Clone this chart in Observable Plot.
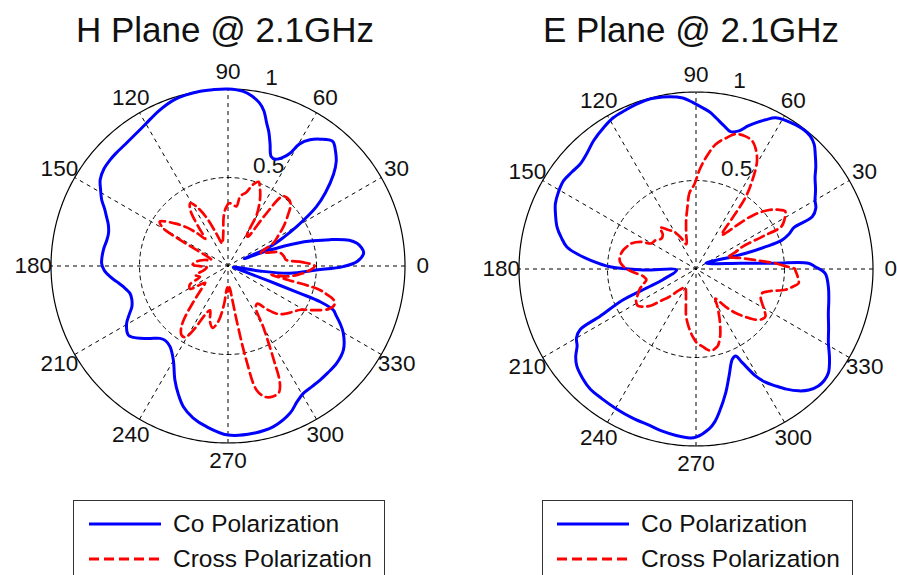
<!DOCTYPE html>
<html>
<head>
<meta charset="utf-8">
<script src="https://cdn.jsdelivr.net/npm/d3@7"></script>
<script src="https://cdn.jsdelivr.net/npm/@observablehq/plot@0.6"></script>
<style>
  body { margin: 0; background: #fff; font-family: "Liberation Sans", Arial, sans-serif; }
  #page { position: relative; width: 897px; height: 575px; overflow: hidden; background: #fff; }
  .title { position: absolute; top: 8px; width: 450px; text-align: center; font-size: 35px; line-height: 44px; color: #111; white-space: nowrap; }
  .chart { position: absolute; top: 55px; }
  .legend { position: absolute; top: 500px; height: 90px; border: 1px solid #333; box-sizing: border-box; background: #fff; }
  .legend .row { position: absolute; left: 0; height: 30px; line-height: 30px; font-size: 24.5px; color: #111; white-space: nowrap; }
  .legend .row svg { position: absolute; top: 5px; }
  .legend .row span { position: absolute; }
</style>
</head>
<body>
<div id="page"></div>
<script>
// ---------- data ----------
const titles = ["H Plane @ 2.1GHz", "E Plane @ 2.1GHz"];
const seriesNames = ["Co Polarization", "Cross Polarization"];
const angleTicks = [0, 30, 60, 90, 120, 150, 180, 210, 240, 270, 300, 330];
const ringTicks = [0.5, 1];

// H plane, co polarization (angle in degrees, normalised magnitude)
const hCoTheta = [348, 351, 353.3, 357.4, 359.7, 2, 5.5, 8, 10, 12, 14.5, 16.5, 18.3, 20.8, 23, 24, 24.7, 27.5, 29.8, 33.8, 37, 41, 44, 47, 50, 54, 57, 59.6, 61.2, 63, 66, 68.5, 71, 73, 74.8, 77, 79, 82, 85, 90, 95, 99, 104, 108, 114, 120, 125, 130, 135, 138, 142, 146, 149, 152.4, 155, 158, 161, 164.7, 168, 172.7, 178.8, 182, 185.2, 188, 191.2, 195.6, 199, 203, 206, 209.5, 214.7, 217, 219.4, 223, 226.8, 230, 234.3, 239.8, 245, 249, 252.4, 257, 262.4, 270, 278.6, 285.8, 292.8, 297, 300.6, 305, 308.9, 313, 318.2, 324, 329.7, 332.9, 335.5, 337.3, 338.8, 339.2, 339.6, 340.5, 342];
const hCoR     = [0.03, 0.18, 0.35, 0.5, 0.65, 0.73, 0.77, 0.76, 0.74, 0.7, 0.595, 0.5, 0.41, 0.254, 0.13, 0.1, 0.26, 0.36, 0.447, 0.6, 0.69, 0.79, 0.85, 0.89, 0.92, 0.886, 0.85, 0.8, 0.727, 0.69, 0.66, 0.665, 0.73, 0.79, 0.835, 0.9, 0.937, 0.97, 0.99, 1.0, 1.0, 1.0, 0.995, 0.987, 0.96, 0.928, 0.91, 0.9, 0.898, 0.896, 0.89, 0.871, 0.84, 0.805, 0.77, 0.74, 0.715, 0.7, 0.7, 0.71, 0.714, 0.7, 0.669, 0.635, 0.603, 0.575, 0.575, 0.59, 0.62, 0.658, 0.685, 0.67, 0.644, 0.6, 0.561, 0.55, 0.561, 0.614, 0.71, 0.78, 0.834, 0.88, 0.916, 0.955, 0.956, 0.943, 0.903, 0.86, 0.836, 0.83, 0.828, 0.826, 0.824, 0.806, 0.755, 0.711, 0.67, 0.645, 0.557, 0.435, 0.3, 0.15, 0.07];

// H plane, cross polarization
const hCrossTheta = [0, 3, 6, 10, 15, 19, 22, 24, 27, 31, 35, 40, 45, 49, 52, 54, 56, 58, 61, 65, 68, 70, 73, 76, 80, 82, 86, 89, 92, 95, 98, 101, 104, 110, 114, 118, 121, 124, 127, 130, 133, 137, 141, 145, 147, 149.5, 151, 153, 156, 160, 166, 172, 178, 184, 190, 196, 201, 206, 211, 216, 221, 226, 230, 233, 236, 239, 242, 245, 248, 252, 256, 260, 264, 268, 271, 274, 277, 279, 281, 283, 286, 289, 292, 294, 296, 300, 304, 308, 312, 316, 320, 325, 329, 333, 337, 340, 342, 344, 345.5, 347, 348.5, 350, 353, 356];
const hCrossR     = [0.49, 0.42, 0.33, 0.32, 0.3, 0.23, 0.2, 0.22, 0.29, 0.33, 0.38, 0.44, 0.5, 0.51, 0.5, 0.35, 0.2, 0.2, 0.34, 0.43, 0.48, 0.506, 0.48, 0.43, 0.4, 0.34, 0.35, 0.355, 0.33, 0.28, 0.19, 0.15, 0.13, 0.2, 0.3, 0.38, 0.414, 0.38, 0.28, 0.2, 0.25, 0.32, 0.38, 0.44, 0.46, 0.43, 0.35, 0.2, 0.12, 0.1, 0.14, 0.18, 0.2, 0.12, 0.14, 0.19, 0.17, 0.24, 0.25, 0.16, 0.2, 0.28, 0.38, 0.44, 0.47, 0.47, 0.4, 0.3, 0.27, 0.33, 0.36, 0.32, 0.22, 0.12, 0.15, 0.12, 0.18, 0.31, 0.54, 0.72, 0.77, 0.78, 0.77, 0.72, 0.59, 0.4, 0.28, 0.27, 0.33, 0.39, 0.42, 0.45, 0.48, 0.55, 0.62, 0.64, 0.63, 0.58, 0.53, 0.35, 0.25, 0.34, 0.4, 0.45];

// E plane, co polarization
const eCoTheta = [358.1, 1.1, 2.9, 4.2, 7.5, 30.5, 18.6, 17.5, 17.7, 18.5, 20.5, 22.9, 24.2, 27, 29.9, 33.5, 37.6, 40.5, 43.9, 46.5, 49.3, 52, 55.3, 59, 62.3, 65, 67.8, 70, 72.7, 75.9, 79, 82.5, 85, 87.6, 91, 94.4, 100.9, 105, 110, 114, 118.7, 123, 128.7, 133, 137.8, 142, 146.3, 151, 155.1, 159, 163.2, 167, 170.3, 173, 175.2, 178.5, 181, 182.9, 198, 200.7, 202.9, 206.2, 207.6, 210, 212.9, 216, 219.1, 224, 228.6, 234, 240.4, 247, 253.5, 258, 263.2, 268, 270, 274.7, 277, 279.2, 283.6, 287.2, 291.9, 294.5, 296.3, 299.1, 301.5, 304.2, 307, 310.1, 313, 316.3, 319, 322, 326, 330.9, 336, 341.6, 347, 352.5];
const eCoR     = [0.73, 0.673, 0.636, 0.451, 0.252, 0.065, 0.217, 0.3, 0.41, 0.51, 0.56, 0.6, 0.72, 0.76, 0.776, 0.81, 0.849, 0.89, 0.935, 0.97, 0.99, 0.995, 0.99, 0.98, 0.965, 0.93, 0.892, 0.86, 0.817, 0.8, 0.825, 0.862, 0.89, 0.911, 0.94, 0.969, 0.99, 0.995, 0.99, 0.982, 0.974, 0.955, 0.927, 0.9, 0.883, 0.89, 0.899, 0.89, 0.876, 0.85, 0.82, 0.78, 0.74, 0.67, 0.6, 0.486, 0.3, 0.11, 0.2, 0.28, 0.446, 0.604, 0.738, 0.78, 0.8, 0.84, 0.868, 0.89, 0.904, 0.905, 0.909, 0.915, 0.922, 0.935, 0.947, 0.955, 0.95, 0.906, 0.87, 0.82, 0.717, 0.632, 0.55, 0.54, 0.59, 0.691, 0.75, 0.798, 0.85, 0.9, 0.935, 0.956, 0.96, 0.95, 0.91, 0.856, 0.82, 0.788, 0.77, 0.754];

// E plane, cross polarization
const eCrossTheta = [0, 2, 4.1, 8, 13, 17, 20, 23, 25.6, 26, 26.5, 30, 33, 36, 39, 43, 46.5, 50, 53, 54.5, 55.3, 57.5, 60.5, 64, 66.3, 69.5, 73.6, 77, 81, 85, 88, 91, 95, 98, 101.5, 106, 111, 116, 121, 124.4, 128, 131, 134, 139, 144, 150, 154, 158, 162, 165.5, 171, 175, 178, 181, 184, 188, 192.4, 196, 200, 204, 207, 212, 215, 219, 222, 226, 232, 240, 246, 250, 255, 258, 262, 267, 271, 275, 278, 281, 284, 286, 290, 293, 296, 300, 303, 308, 312, 316, 319.6, 323, 325.7, 329, 332.7, 336, 340, 343, 346.9, 350, 352.1, 356, 359.4];
const eCrossR     = [0.56, 0.5, 0.45, 0.35, 0.27, 0.22, 0.19, 0.24, 0.29, 0.42, 0.54, 0.58, 0.6, 0.57, 0.53, 0.45, 0.35, 0.27, 0.24, 0.36, 0.49, 0.59, 0.7, 0.764, 0.79, 0.8, 0.795, 0.76, 0.714, 0.63, 0.56, 0.48, 0.43, 0.35, 0.28, 0.2, 0.15, 0.2, 0.25, 0.265, 0.29, 0.31, 0.27, 0.26, 0.28, 0.29, 0.35, 0.39, 0.41, 0.425, 0.436, 0.43, 0.41, 0.38, 0.34, 0.3, 0.287, 0.31, 0.34, 0.36, 0.38, 0.39, 0.37, 0.33, 0.27, 0.22, 0.15, 0.12, 0.14, 0.165, 0.22, 0.27, 0.32, 0.38, 0.42, 0.44, 0.46, 0.47, 0.46, 0.45, 0.4, 0.35, 0.3, 0.24, 0.2, 0.27, 0.335, 0.39, 0.442, 0.47, 0.475, 0.45, 0.42, 0.4, 0.398, 0.43, 0.518, 0.56, 0.585, 0.575, 0.561];

// ---------- drawing ----------
const FONT = '"Liberation Sans", Arial, sans-serif';
const BLUE = "#0000ff", RED = "#ff0000";
const rad = d => d * Math.PI / 180;
const px = d => d.r * Math.cos(rad(d.t));
const py = d => d.r * Math.sin(rad(d.t));
const pairs = (T, Rr) => T.map((t, i) => ({t, r: Rr[i]}));

function polar({coT, coR, crT, crR, cx, cy, R, width, height}) {
  const co = pairs(coT, coR);
  const cr = pairs(crT, crR);
  const ring = r => d3.range(0, 361, 1).map(t => ({t, r}));
  const spokes = angleTicks.filter(a => a > 0 && a <= 180);
  const a82 = rad(82);
  return Plot.plot({
    width, height, margin: 0,
    x: {domain: [-1, 1], range: [cx - R, cx + R], axis: null},
    y: {domain: [-1, 1], range: [cy + R, cy - R], axis: null},
    style: {background: "transparent", overflow: "visible", fontFamily: FONT, color: "#111"},
    marks: [
      // spokes (diameters every 30 degrees)
      Plot.link(spokes, {
        x1: a => -Math.cos(rad(a)), y1: a => -Math.sin(rad(a)),
        x2: a => Math.cos(rad(a)), y2: a => Math.sin(rad(a)),
        stroke: "#000", strokeWidth: 1, strokeDasharray: "4,4"
      }),
      // inner dashed ring(s)
      ...ringTicks.filter(r => r < 1).map(r => Plot.line(ring(r), {x: px, y: py, stroke: "#000", strokeWidth: 1, strokeDasharray: "4,4"})),
      // outer solid ring
      Plot.line(ring(1), {x: px, y: py, stroke: "#000", strokeWidth: 1.2}),
      // angle labels
      Plot.text(angleTicks, {
        x: a => 1.1 * Math.cos(rad(a)), y: a => 1.1 * Math.sin(rad(a)),
        text: a => String(a), fontSize: 22.5, fill: "#111"
      }),
      // radial labels
      Plot.text(ringTicks, {
        x: r => (r + 0.025) * Math.cos(a82), y: r => (r + 0.025) * Math.sin(a82),
        text: r => String(r), textAnchor: "start", lineAnchor: "bottom", dx: 12, dy: -1, fontSize: 22.5, fill: "#111"
      }),
      // data
      Plot.line(co, {x: px, y: py, stroke: BLUE, strokeWidth: 3, curve: "catmull-rom-closed"}),
      Plot.line(cr, {x: px, y: py, stroke: RED, strokeWidth: 2.7, strokeDasharray: "10,5", curve: "catmull-rom-closed"})
    ]
  });
}

const page = document.getElementById("page");

const panels = [
  {title: titles[0], titleLeft: 0, left: 0, coT: hCoTheta, coR: hCoR, crT: hCrossTheta, crR: hCrossR, cx: 227.5, cy: 265.5 - 55, R: 177, legLeft: 73, legWidth: 312, swLeft: 15, txtLeft: 99},
  {title: titles[1], titleLeft: 466, left: 449, coT: eCoTheta, coR: eCoR, crT: eCrossTheta, crR: eCrossR, cx: 695.5 - 449, cy: 268.5 - 55, R: 177, legLeft: 542, legWidth: 311, swLeft: 14, txtLeft: 98}
];

for (const p of panels) {
  const t = document.createElement("div");
  t.className = "title";
  t.style.left = p.titleLeft + "px";
  t.textContent = p.title;
  page.appendChild(t);

  const chart = polar({coT: p.coT, coR: p.coR, crT: p.crT, crR: p.crR, cx: p.cx, cy: p.cy, R: p.R, width: 448, height: 435});
  chart.classList.add("chart");
  chart.style.left = p.left + "px";
  chart.style.top = "55px";
  chart.style.position = "absolute";
  page.appendChild(chart);

  const leg = document.createElement("div");
  leg.className = "legend";
  leg.style.left = p.legLeft + "px";
  leg.style.width = p.legWidth + "px";
  const rows = [
    {name: seriesNames[0], color: BLUE, dash: null, cy: 23},
    {name: seriesNames[1], color: RED, dash: "10,5", cy: 58}
  ];
  for (const r of rows) {
    const row = document.createElement("div");
    row.className = "row";
    row.style.top = (r.cy - 15) + "px";
    row.style.width = "100%";
    row.innerHTML =
      `<svg width="74" height="20" style="left:${p.swLeft}px"><line x1="0" y1="10" x2="72" y2="10" stroke="${r.color}" stroke-width="3" ${r.dash ? `stroke-dasharray="${r.dash}"` : ""}/></svg>` +
      `<span style="left:${p.txtLeft}px">${r.name}</span>`;
    leg.appendChild(row);
  }
  page.appendChild(leg);
}
</script>
</body>
</html>
